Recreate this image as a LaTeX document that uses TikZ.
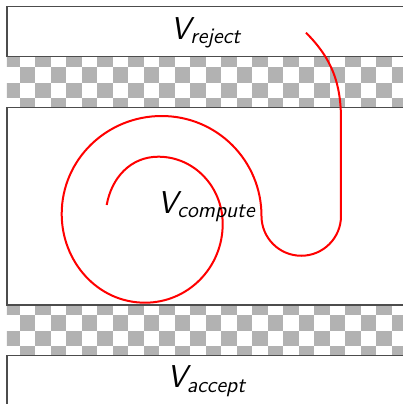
\documentclass[tikz,border=0pt]{standalone}
\usepackage{amsmath}
\usepackage{tikz}
\newcommand{\vset}[1]{$\textsf{\itshape V}_{\textsf{\itshape #1}}$}

\begin{document}
\begin{tikzpicture}[x=0.5pt,y=0.5pt,
  region/.style={draw=black!70,line width=0.6pt},
  setname/.style={anchor=base,font=\fontsize{15.8}{19}\selectfont},
  run/.style={draw=red,line width=1pt}]
\useasboundingbox (0,0) rectangle (403,404);
\clip (0,0) rectangle (403,404);
% checkered bands
\begin{scope}
\clip (7,296.5) rectangle (403,347.5) (7,48.5) rectangle (403,99);
\foreach \j in {0,1,2,3,16,17,18,19}
  \foreach \k in {0,...,25}{
    \pgfmathtruncatemacro\odd{mod(\j+\k,2)}
    \ifnum\odd=0
      \fill[black!30] (4.5+15.5*\k,352.5-15.5*\j) rectangle ++(15.5,-15.5);
    \fi}
\end{scope}
% regions
\draw[region] (7,347.5) rectangle (420,397.5);
\draw[region] (7,99) rectangle (420,296.5);
\draw[region] (7,-20) rectangle (420,48.5);
% run of the machine
\coordinate (start) at (306,371.3);
\coordinate (drop) at (341,284);
\coordinate (turn) at (341,188);
\coordinate (s1) at (161.7,288);
\coordinate (s2) at (61.7,190);
\coordinate (s3) at (145,101.3);
\coordinate (s4) at (222.7,180);
\coordinate (s5) at (158.3,247.3);
\coordinate (stop) at (106.7,199);
\draw[run] (start) to[out=-45,in=90] (drop) -- (turn)
  arc[start angle=0,end angle=-180,radius=39.75]
  to[out=90,in=0] (s1) to[out=180,in=90] (s2) to[out=-90,in=180] (s3)
  to[out=0,in=-90] (s4) to[out=90,in=0] (s5) to[out=180,in=80] (stop);
\node[setname] (reject) at (206,364.7) {\vset{reject}};
\node[setname] (compute) at (206.7,190.7) {\vset{compute}};
\node[setname] (accept) at (206.7,16.3) {\vset{accept}};
\end{tikzpicture}
\end{document}
